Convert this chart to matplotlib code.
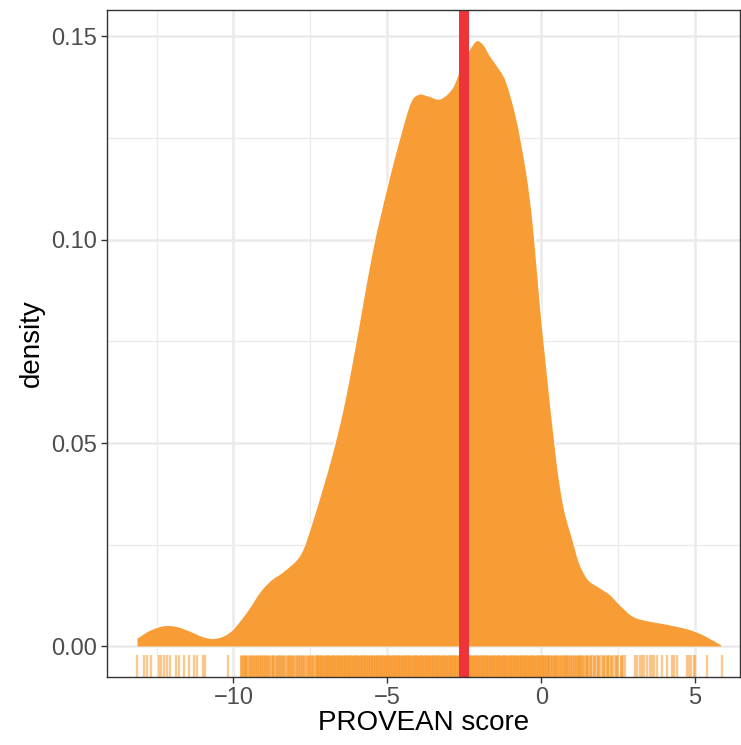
import matplotlib
matplotlib.use("Agg")
import matplotlib.pyplot as plt
from matplotlib.ticker import MultipleLocator
from matplotlib.path import Path
from matplotlib.patches import PathPatch

plt.rcParams['font.family'] = ['Liberation Sans', 'DejaVu Sans']

# ---- data ----
dens_x = [-13.12, -12.8, -12.45, -12.14, -11.8, -11.4, -11.0, -10.65, -10.3, -10.0,
          -9.56, -9.12, -8.75, -8.37, -7.82, -7.4, -6.85, -6.45, -6.09, -5.5,
          -5.01, -4.58, -4.25, -3.98, -3.66, -3.33, -3.06, -2.85, -2.63, -2.35,
          -2.09, -1.85, -1.66, -1.4, -1.12, -0.79, -0.47, -0.25, -0.03, 0.19,
          0.51, 0.75, 1.04, 1.25, 1.53, 1.9, 2.24, 2.6, 3.0, 3.5,
          3.96, 4.4, 4.84, 5.3, 5.84]
dens_y = [0.0021, 0.0037, 0.0048, 0.0052, 0.0049, 0.0038, 0.0025, 0.0020, 0.0027, 0.0044,
          0.0086, 0.0136, 0.0165, 0.0185, 0.0227, 0.0316, 0.0457, 0.0580, 0.0720, 0.0967,
          0.1130, 0.1255, 0.1337, 0.1358, 0.1354, 0.1346, 0.1358, 0.1379, 0.1420, 0.1465,
          0.1490, 0.1478, 0.1453, 0.1425, 0.1387, 0.1296, 0.1165, 0.1033, 0.0844, 0.0679,
          0.0457, 0.0340, 0.0260, 0.0205, 0.0165, 0.0145, 0.0128, 0.0100, 0.0074, 0.0063,
          0.0057, 0.0050, 0.0042, 0.0028, 0.0005]

# rug ticks, grouped by how crowded they look
rug_sparse = [-13.12, -12.91, -12.80, -12.69, -12.42, -12.34, -12.26, -12.15, -12.05,
              -11.88, -11.78, -11.61, -11.43, -11.27, -11.18, -11.00, -10.94, -10.17,
              1.65, 1.80, 1.93, 2.07, 2.20, 2.36, 2.50, 2.65, 2.72,
              3.05, 3.12, 3.20, 3.28, 3.35, 3.45, 3.52, 3.60, 3.68, 3.76,
              3.92, 4.08, 4.24, 4.30, 4.41, 4.73, 4.80, 4.88, 4.95, 5.00, 5.38, 5.87]
rug_mid = [-9.77, -9.70, -9.64, -9.58, -9.50, -9.44, -9.38, -9.30, -9.24, -9.17,
           -9.10, -9.03, -8.96, -8.90, -8.83, -8.76, -8.70, -8.62, -8.55, -8.48,
           -8.42, -8.35, -8.27, -8.20, -8.13, -8.06, -7.98, -7.90, -7.84, -7.77,
           -7.70, -7.62, -7.55, -7.48, -7.40, -7.33,
           0.28, 0.34, 0.40, 0.46, 0.52, 0.58, 0.64, 0.70, 0.76, 0.82,
           0.88, 0.94, 1.00, 1.06, 1.12, 1.18, 1.24, 1.30, 1.37, 1.44,
           1.50, 1.58, 1.72, 1.86, 2.00, 2.13, 2.28, 2.43, 2.58]
rug_dense = [-7.30, -7.25, -7.19, -7.14, -7.08, -7.03, -6.97, -6.92, -6.86, -6.81,
             -6.75, -6.70, -6.64, -6.59, -6.53, -6.48, -6.42, -6.37, -6.31, -6.26,
             -6.20, -6.15, -6.09, -6.04, -5.98, -5.93, -5.87, -5.82, -5.76, -5.71,
             -5.65, -5.60, -5.54, -5.49, -5.43, -5.38, -5.32, -5.27, -5.21, -5.16,
             -5.10, -5.05, -4.99, -4.94, -4.88, -4.83, -4.77, -4.72, -4.66, -4.61,
             -4.55, -4.50, -4.44, -4.39, -4.33, -4.28, -4.22, -4.17, -4.11, -4.06,
             -4.00, -3.95, -3.89, -3.84, -3.78, -3.73, -3.67, -3.62, -3.56, -3.51,
             -3.45, -3.40, -3.34, -3.29, -3.23, -3.18, -3.12, -3.07, -3.01, -2.96,
             -2.90, -2.85, -2.79, -2.74, -2.68, -2.63, -2.57, -2.52, -2.46, -2.41,
             -2.35, -2.30, -2.24, -2.19, -2.13, -2.08, -2.02, -1.97, -1.91, -1.86,
             -1.80, -1.75, -1.69, -1.64, -1.58, -1.53, -1.47, -1.42, -1.36, -1.31,
             -1.25, -1.20, -1.14, -1.09, -1.03, -0.98, -0.92, -0.87, -0.81, -0.76,
             -0.70, -0.65, -0.59, -0.54, -0.48, -0.43, -0.37, -0.32, -0.26, -0.21,
             -0.15, -0.10, -0.04, 0.01, 0.07, 0.12, 0.18, 0.23]

threshold = -2.5

x_ticks = [-10, -5, 0, 5]
y_ticks = [0.00, 0.05, 0.10, 0.15]
x_label = "PROVEAN score"
y_label = "density"

# ---- styling ----
fill_col = '#F89D36'
red_col = '#EE3339'
grid_col = '#EBEBEB'
dark = '#333333'


def smooth_path_vertices(xs, ys):
    """Catmull-Rom curve through the read points, expressed as cubic Bezier segments."""
    pts = list(zip(xs, ys))
    n = len(pts)
    verts = [pts[0]]
    codes = [Path.MOVETO]
    for i in range(n - 1):
        p0 = pts[i - 1] if i > 0 else pts[i]
        p1 = pts[i]
        p2 = pts[i + 1]
        p3 = pts[i + 2] if i + 2 < n else pts[i + 1]
        c1 = (p1[0] + (p2[0] - p0[0]) / 6.0, p1[1] + (p2[1] - p0[1]) / 6.0)
        c2 = (p2[0] - (p3[0] - p1[0]) / 6.0, p2[1] - (p3[1] - p1[1]) / 6.0)
        verts += [c1, c2, p2]
        codes += [Path.CURVE4] * 3
    return verts, codes


fig = plt.figure(figsize=(7.41, 7.45), dpi=100)
ax = fig.add_axes([107/741, 68/745, 633/741, 667/745])

ax.set_xlim(-14.11, 6.46)
ax.set_ylim(-0.0075, 0.1565)

ax.xaxis.set_minor_locator(MultipleLocator(2.5))
ax.yaxis.set_minor_locator(MultipleLocator(0.025))
ax.set_xticks(x_ticks)
ax.set_yticks(y_ticks)
ax.set_xticklabels(['\u2212' + str(abs(t)) if t < 0 else str(t) for t in x_ticks])
ax.set_yticklabels([f"{t:.2f}" for t in y_ticks])

ax.grid(which='major', color=grid_col, linewidth=1.8, zorder=0)
ax.grid(which='minor', color=grid_col, linewidth=1.0, zorder=0)
ax.set_axisbelow(True)

# density area (curve + baseline)
cv, cc = smooth_path_vertices(dens_x, dens_y)
area_v = cv + [(dens_x[-1], 0.0), (dens_x[0], 0.0), cv[0]]
area_c = cc + [Path.LINETO, Path.LINETO, Path.CLOSEPOLY]
ax.add_patch(PathPatch(Path(area_v, area_c), facecolor=fill_col, edgecolor='none', zorder=2))
ax.add_patch(PathPatch(Path(cv, cc), facecolor='none', edgecolor='white', linewidth=1.0, zorder=3))

trans = ax.get_xaxis_transform()
ax.vlines(rug_sparse, 0, 0.033, transform=trans, color=fill_col, alpha=0.55,
          linewidth=1.7, zorder=3)
ax.vlines(rug_mid, 0, 0.033, transform=trans, color=fill_col, alpha=0.88,
          linewidth=2.0, zorder=3)
ax.vlines(rug_dense, 0, 0.033, transform=trans, color=fill_col, alpha=1.0,
          linewidth=1.8, zorder=3)

ax.axvline(threshold, color=red_col, linewidth=7.2, zorder=4)

for s in ax.spines.values():
    s.set_color(dark)
    s.set_linewidth(1.0)
    s.set_zorder(5)

ax.tick_params(axis='both', which='major', length=4, width=1.0, color=dark,
               labelcolor='#4D4D4D', labelsize=17, pad=3)
ax.tick_params(axis='both', which='minor', length=0)

ax.set_xlabel(x_label, fontsize=20, color='black', labelpad=1)
ax.set_ylabel(y_label, fontsize=20, color='black', labelpad=5)

fig.savefig('out.png', dpi=100, facecolor='white')
